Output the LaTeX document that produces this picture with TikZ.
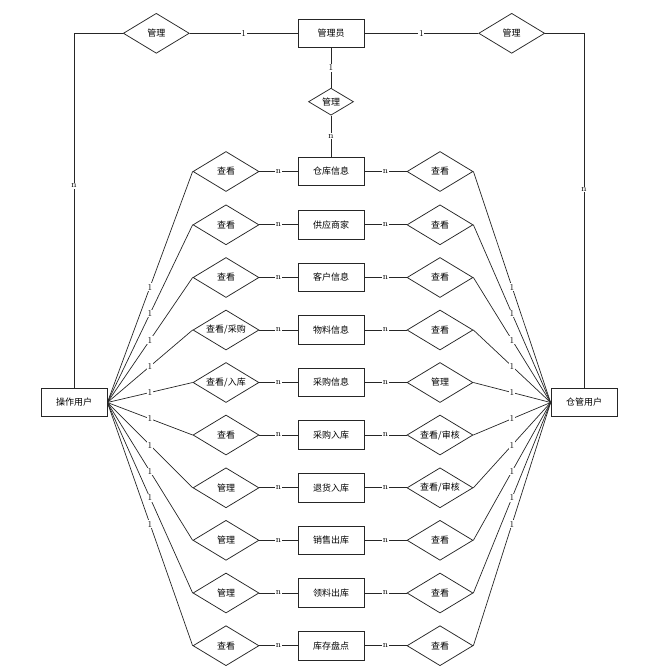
\documentclass[tikz,border=0pt]{standalone}
\usepackage{fontspec}
\newfontfamily\cjk{Noto Sans CJK SC}
\usetikzlibrary{shapes.geometric}

\tikzset{
  entity/.style={draw=black!85, line width=0.75pt, minimum width=66pt, minimum height=28.5pt,
    inner sep=0pt, font=\cjk\fontsize{9}{10}\selectfont, fill=white},
  rel/.style={draw=black!85, line width=0.75pt, diamond, aspect=1.65, minimum width=66pt,
    minimum height=40pt, inner sep=0pt, font=\cjk\fontsize{9}{10}\selectfont, fill=white},
  relsmall/.style={rel, minimum width=45pt, minimum height=27pt},
  link/.style={draw=black!85, line width=0.7pt},
  card/.style={fill=white, inner sep=0.8pt, font=\fontsize{9}{10}\selectfont}
}

\begin{document}
\begin{tikzpicture}[x=1pt, y=-1pt]
% page frame
\useasboundingbox (0,0) rectangle (652,672);
\def\ecol{331}
\def\lcol{226}
\def\rcol{440}

% users and administrator
\node[entity] (admin) at (331,33.3) {管理员};
\node[entity] (opuser) at (74,402.5) {操作用户};
\node[entity] (whuser) at (584,402.5) {仓管用户};

% relations of the administrator
\node[rel] (mgrL) at (156.3,33.3) {管理};
\node[rel] (mgrR) at (511.7,33.3) {管理};
\node[relsmall] (mgrM) at (331,101.7) {管理};

% entities
\node[entity] (e1) at (\ecol,171.5) {仓库信息};
\node[entity] (e2) at (\ecol,224.8) {供应商家};
\node[entity] (e3) at (\ecol,277.5) {客户信息};
\node[entity] (e4) at (\ecol,330) {物料信息};
\node[entity] (e5) at (\ecol,382.5) {采购信息};
\node[entity] (e6) at (\ecol,435) {采购入库};
\node[entity] (e7) at (\ecol,487.8) {退货入库};
\node[entity] (e8) at (\ecol,540.3) {销售出库};
\node[entity] (e9) at (\ecol,593) {领料出库};
\node[entity] (e10) at (\ecol,645.7) {库存盘点};

% relations on the left (operator side)
\node[rel] (l1) at (\lcol,171.5) {查看};
\node[rel] (l2) at (\lcol,224.8) {查看};
\node[rel] (l3) at (\lcol,277.5) {查看};
\node[rel] (l4) at (\lcol,330) {查看/采购};
\node[rel] (l5) at (\lcol,382.5) {查看/入库};
\node[rel] (l6) at (\lcol,435) {查看};
\node[rel] (l7) at (\lcol,487.8) {管理};
\node[rel] (l8) at (\lcol,540.3) {管理};
\node[rel] (l9) at (\lcol,593) {管理};
\node[rel] (l10) at (\lcol,645.7) {查看};

% relations on the right (warehouse side)
\node[rel] (r1) at (\rcol,171.5) {查看};
\node[rel] (r2) at (\rcol,224.8) {查看};
\node[rel] (r3) at (\rcol,277.5) {查看};
\node[rel] (r4) at (\rcol,330) {查看};
\node[rel] (r5) at (\rcol,382.5) {管理};
\node[rel] (r6) at (\rcol,435) {查看/审核};
\node[rel] (r7) at (\rcol,487.8) {查看/审核};
\node[rel] (r8) at (\rcol,540.3) {查看};
\node[rel] (r9) at (\rcol,593) {查看};
\node[rel] (r10) at (\rcol,645.7) {查看};

% links of the administrator
\path[link] (mgrL.east) -- node[card] {1} (admin.west);
\path[link] (admin.east) -- node[card] {1} (mgrR.west);
\path[link] (admin.south) -- node[card] {1} (mgrM.north);
\path[link] (mgrM.south) -- node[card] {n} (e1.north);
\path[link] (mgrL.west) -| node[card, pos=0.715] {n} (opuser.north);
\path[link] (mgrR.east) -| node[card, pos=0.72] {n} (whuser.north);

% operator user links
\path[link] (opuser.east) -- node[card] {1} (l1.west);
\path[link] (opuser.east) -- node[card] {1} (l2.west);
\path[link] (opuser.east) -- node[card] {1} (l3.west);
\path[link] (opuser.east) -- node[card] {1} (l4.west);
\path[link] (opuser.east) -- node[card] {1} (l5.west);
\path[link] (opuser.east) -- node[card] {1} (l6.west);
\path[link] (opuser.east) -- node[card] {1} (l7.west);
\path[link] (opuser.east) -- node[card] {1} (l8.west);
\path[link] (opuser.east) -- node[card] {1} (l9.west);
\path[link] (opuser.east) -- node[card] {1} (l10.west);

% warehouse user links
\path[link] (r1.east) -- node[card] {1} (whuser.west);
\path[link] (r2.east) -- node[card] {1} (whuser.west);
\path[link] (r3.east) -- node[card] {1} (whuser.west);
\path[link] (r4.east) -- node[card] {1} (whuser.west);
\path[link] (r5.east) -- node[card] {1} (whuser.west);
\path[link] (r6.east) -- node[card] {1} (whuser.west);
\path[link] (r7.east) -- node[card] {1} (whuser.west);
\path[link] (r8.east) -- node[card] {1} (whuser.west);
\path[link] (r9.east) -- node[card] {1} (whuser.west);
\path[link] (r10.east) -- node[card] {1} (whuser.west);

% relation to entity links
\path[link] (l1.east) -- node[card] {n} (e1.west);
\path[link] (l2.east) -- node[card] {n} (e2.west);
\path[link] (l3.east) -- node[card] {n} (e3.west);
\path[link] (l4.east) -- node[card] {n} (e4.west);
\path[link] (l5.east) -- node[card] {n} (e5.west);
\path[link] (l6.east) -- node[card] {n} (e6.west);
\path[link] (l7.east) -- node[card] {n} (e7.west);
\path[link] (l8.east) -- node[card] {n} (e8.west);
\path[link] (l9.east) -- node[card] {n} (e9.west);
\path[link] (l10.east) -- node[card] {n} (e10.west);
\path[link] (e1.east) -- node[card] {n} (r1.west);
\path[link] (e2.east) -- node[card] {n} (r2.west);
\path[link] (e3.east) -- node[card] {n} (r3.west);
\path[link] (e4.east) -- node[card] {n} (r4.west);
\path[link] (e5.east) -- node[card] {n} (r5.west);
\path[link] (e6.east) -- node[card] {n} (r6.west);
\path[link] (e7.east) -- node[card] {n} (r7.west);
\path[link] (e8.east) -- node[card] {n} (r8.west);
\path[link] (e9.east) -- node[card] {n} (r9.west);
\path[link] (e10.east) -- node[card] {n} (r10.west);
\end{tikzpicture}
\end{document}
